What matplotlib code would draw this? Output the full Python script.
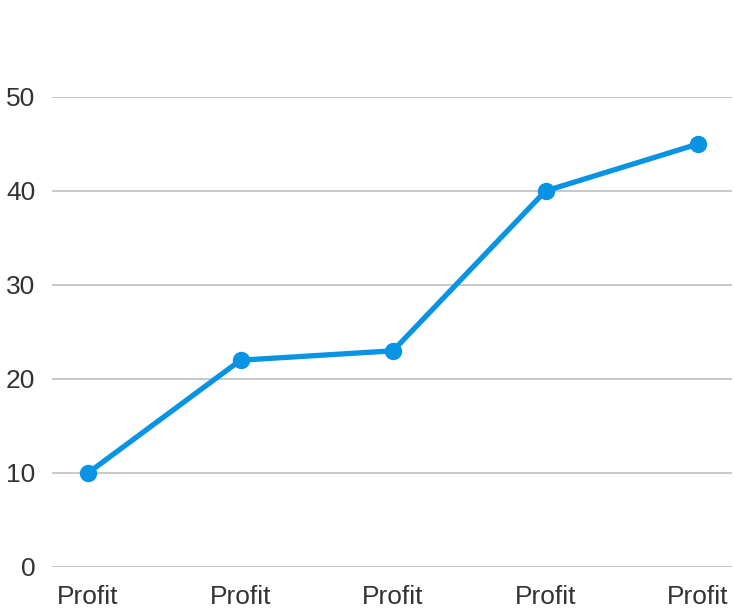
import matplotlib
matplotlib.use("Agg")
import matplotlib.pyplot as plt

categories = ["Profit", "Profit", "Profit", "Profit", "Profit"]
values = [10, 22, 23, 40, 45]
yticks = [0, 10, 20, 30, 40, 50]

plt.rcParams['font.family'] = ['Liberation Sans', 'DejaVu Sans']

W, H = 734, 609
fig = plt.figure(figsize=(W / 100, H / 100), dpi=100)
ax = fig.add_axes([52 / W, (H - 567) / H, (732 - 52) / W, (567 - 97) / H])

x = list(range(len(values)))
ax.plot(x, values, color="#0993e3", linewidth=3.8, marker="o", markersize=11.5,
        clip_on=False, zorder=3)

ax.set_ylim(0, 50)
ax.set_xlim(-36 / 152.5, 4 + 34 / 152.5)
ax.set_yticks(yticks)
ax.set_xticks(x)
ax.set_xticklabels(categories)
ax.grid(axis="y", color="#c4c4c4", linewidth=1.3)
ax.set_axisbelow(True)
for s in ax.spines.values():
    s.set_visible(False)
ax.tick_params(axis="both", length=0, labelsize=19, labelcolor="#333333")
ax.tick_params(axis="y", pad=12)
ax.tick_params(axis="x", pad=13)

fig.savefig("out.png", dpi=100)
